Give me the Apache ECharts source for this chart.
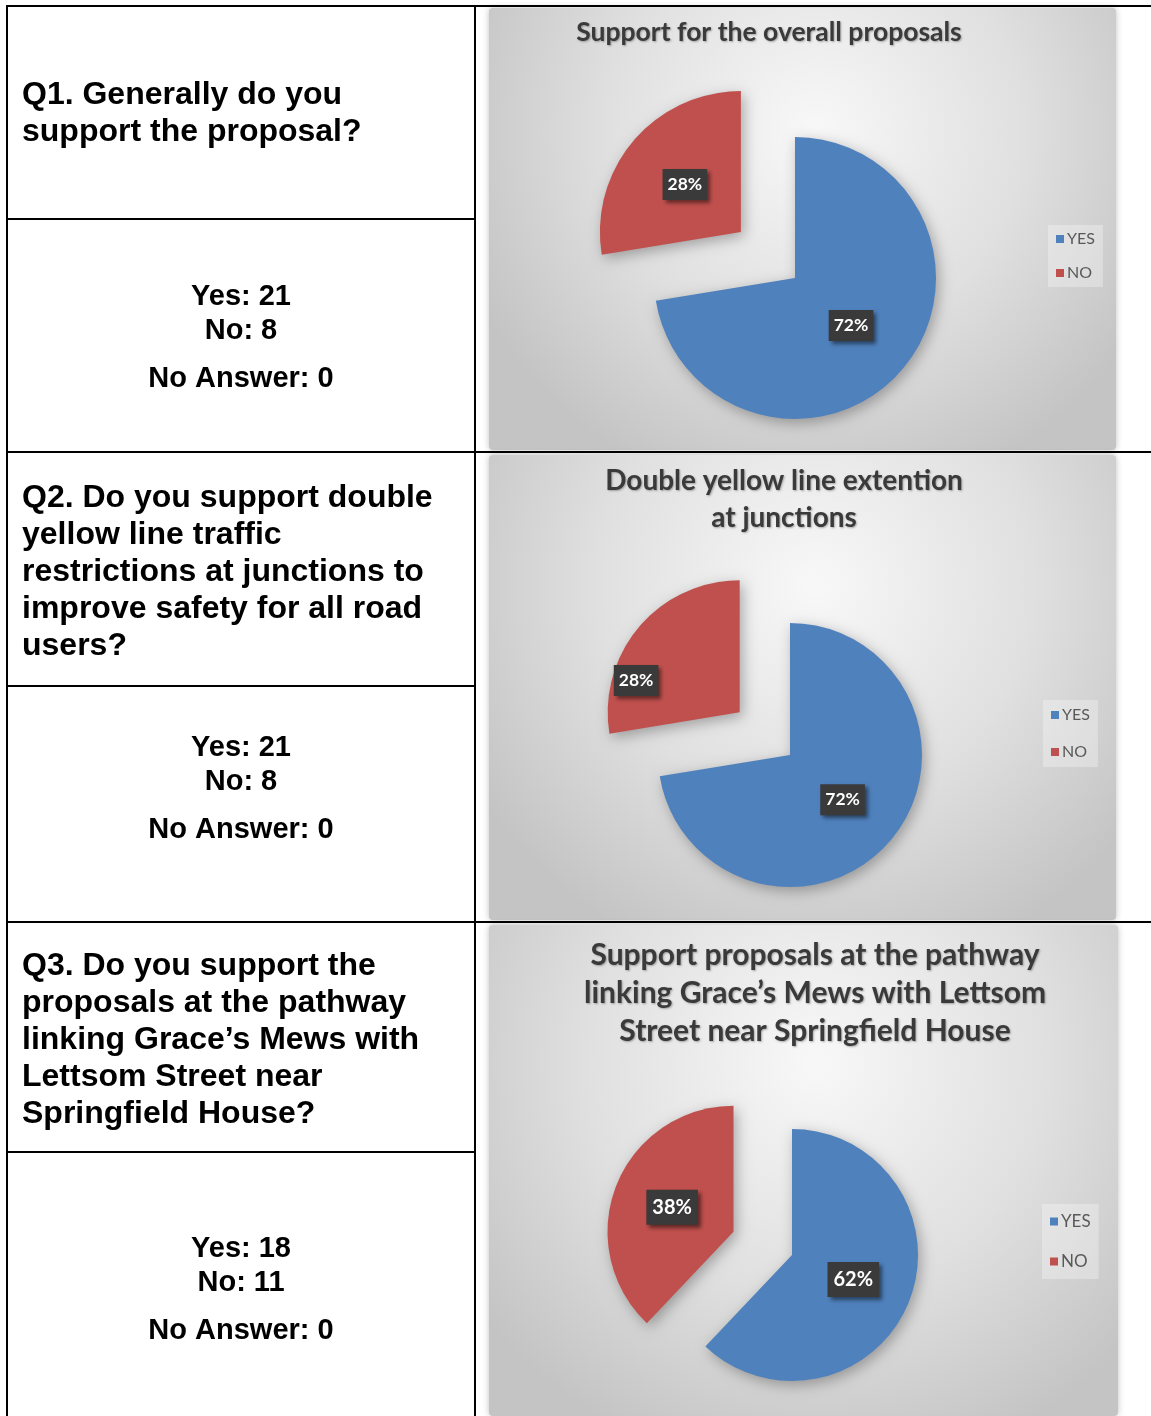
<!DOCTYPE html>
<html>
<head>
<meta charset="utf-8">
<script src="https://cdn.jsdelivr.net/npm/echarts@6/dist/echarts.min.js"></script>
<style>
html,body{margin:0;padding:0;background:#fff;}
#main{width:1151px;height:1416px;}
</style>
</head>
<body>
<div id="main"></div>
<script>
// ---- data ----
const categories = ['YES', 'NO'];
const q1Values = [21, 8];
const q2Values = [21, 8];
const q3Values = [18, 11];
const questions = [
  'Q1. Generally do you\nsupport the proposal?',
  'Q2. Do you support double\nyellow line traffic\nrestrictions at junctions to\nimprove safety for all road\nusers?',
  'Q3. Do you support the\nproposals at the pathway\nlinking Grace\u2019s Mews with\nLettsom Street near\nSpringfield House?'
];
const answerCounts = [
  'Yes: 21\nNo: 8',
  'Yes: 21\nNo: 8',
  'Yes: 18\nNo: 11'
];
const noAnswerText = ['No Answer: 0', 'No Answer: 0', 'No Answer: 0'];
const chartTitles = [
  'Support for the overall proposals',
  'Double yellow line extention\nat junctions',
  'Support proposals at the pathway\nlinking Grace\u2019s Mews with Lettsom\nStreet near Springfield House'
];

// ---- layout / style ----
const BLUE = '#4f81bd', RED = '#c0504d';
const panels = [
  {x: 489, y: 8, w: 627, h: 442},
  {x: 489, y: 455, w: 627, h: 465},
  {x: 489, y: 925, w: 629, h: 491}
];
const pies = [
  {center: [795, 278], r: 141, label: 17.5, pad: [7, 5, 6, 5]},
  {center: [790, 755], r: 132, label: 17.5, pad: [7, 5, 6, 5]},
  {center: [792, 1255], r: 126, label: 20, pad: [8, 6, 7, 6]}
];
const titlePos = [
  {x: 769, y: 32, size: 26.5, lh: 37},
  {x: 784, y: 499.5, size: 28, lh: 37},
  {x: 815, y: 993, size: 30, lh: 38}
];
const legendPos = [
  {left: 1048, top: 225, gap: 18, pad: 6, fs: 16},
  {left: 1043, top: 700, gap: 21, pad: 7, fs: 16},
  {left: 1042, top: 1204, gap: 23, pad: 9, fs: 17}
];
const qTop = [77, 480, 948];
const ansY = [295, 746, 1247];
const noAnsY = [379, 830, 1331];

const valuesList = [q1Values, q2Values, q3Values];

const graphic = [];
panels.forEach(p => {
  graphic.push({
    type: 'rect', z: 0,
    shape: {x: p.x, y: p.y, width: p.w, height: p.h, r: 4},
    style: {
      fill: {type: 'radial', x: 0.52, y: 0.28, r: 0.85,
        colorStops: [{offset: 0, color: '#f8f8f8'}, {offset: 0.55, color: '#e0e0e0'}, {offset: 1, color: '#c4c4c4'}]},
      shadowBlur: 6, shadowColor: 'rgba(0,0,0,0.25)'
    }
  });
});
// table lines
const LW = 2;
function line(x1, y1, x2, y2) {
  graphic.push({type: 'line', z: 5, shape: {x1, y1, x2, y2}, style: {stroke: '#000', lineWidth: LW}});
}
line(7, 6, 7, 1416);
line(475, 6, 475, 1416);
line(6, 6, 1151, 6);
line(6, 452, 1151, 452);
line(6, 922, 1151, 922);
line(6, 219, 475, 219);
line(6, 686, 475, 686);
line(6, 1152, 475, 1152);

questions.forEach((q, i) => {
  graphic.push({type: 'text', z: 5, style: {
    text: q, x: 22, y: qTop[i], fill: '#000',
    font: 'bold 32px "Liberation Sans", Arial, sans-serif',
    lineHeight: 37, verticalAlign: 'top', align: 'left'
  }});
  graphic.push({type: 'text', z: 5, style: {
    text: answerCounts[i], x: 241, y: ansY[i] - 17 + 2, fill: '#000',
    font: 'bold 29px "Liberation Sans", Arial, sans-serif',
    lineHeight: 34, verticalAlign: 'top', align: 'center'
  }});
  graphic.push({type: 'text', z: 5, style: {
    text: noAnswerText[i], x: 241, y: noAnsY[i], fill: '#000',
    font: 'bold 29px "Liberation Sans", Arial, sans-serif',
    verticalAlign: 'middle', align: 'center'
  }});
});
chartTitles.forEach((t, i) => {
  const tp = titlePos[i];
  graphic.push({type: 'text', z: 6, style: {
    text: t, x: tp.x, y: tp.y, fill: '#3a3a3a',
    font: 'bold ' + tp.size + 'px Lato, "Open Sans", sans-serif',
    lineHeight: tp.lh, verticalAlign: 'middle', align: 'center',
    textShadowColor: 'rgba(0,0,0,0.3)', textShadowBlur: 2, textShadowOffsetX: 1, textShadowOffsetY: 1
  }});
});

const series = valuesList.map((vals, i) => ({
  type: 'pie',
  center: pies[i].center,
  radius: pies[i].r,
  startAngle: 90,
  clockwise: true,
  percentPrecision: 0,
  selectedMode: 'multiple',
  selectedOffset: Math.round(pies[i].r * 0.5),
  avoidLabelOverlap: false,
  animation: false,
  emphasis: {disabled: true},
  labelLine: {show: false},
  label: {
    show: true, position: 'inside', formatter: '{d}%',
    color: '#fff', fontWeight: 'bold', fontSize: pies[i].label,
    fontFamily: 'Lato, sans-serif',
    backgroundColor: '#3a3a3a', padding: pies[i].pad,
    shadowColor: 'rgba(0,0,0,0.5)', shadowBlur: 4, shadowOffsetX: 3, shadowOffsetY: 3
  },
  labelLayout: i === 1 ? function (p) { return p.dataIndex === 1 ? {dx: -51, dy: 13} : {}; } : undefined,
  itemStyle: {shadowBlur: 14, shadowColor: 'rgba(0,0,0,0.3)', shadowOffsetX: 3, shadowOffsetY: 4},
  data: categories.map((c, k) => ({
    name: c, value: vals[k], selected: k === 1,
    itemStyle: {color: k === 0 ? BLUE : RED}
  }))
}));

const legend = legendPos.map(lp => ({
  orient: 'vertical', left: lp.left, top: lp.top,
  data: categories, icon: 'rect', itemWidth: 8, itemHeight: 8,
  itemGap: lp.gap, padding: [lp.pad, 8, lp.pad, 8],
  backgroundColor: 'rgba(255,255,255,0.3)',
  selectedMode: false,
  textStyle: {color: '#595959', fontSize: lp.fs, lineHeight: 16, fontFamily: 'Lato, sans-serif', padding: [0, 0, 0, -2]}
}));

const chart = echarts.init(document.getElementById('main'), null, {renderer: 'canvas'});
chart.setOption({
  animation: false,
  color: [BLUE, RED],
  graphic: graphic,
  legend: legend,
  series: series
});
</script>
</body>
</html>
